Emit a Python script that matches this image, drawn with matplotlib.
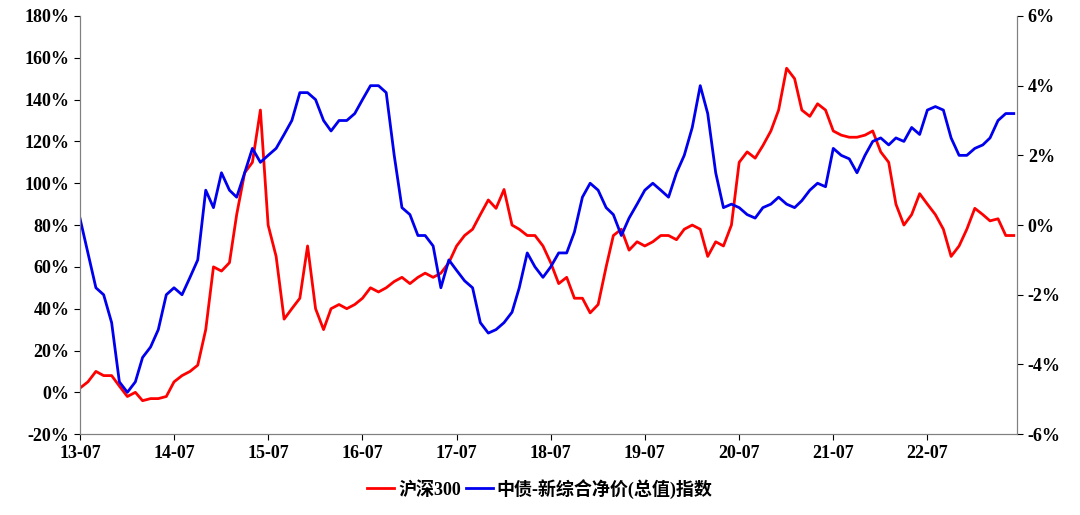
import matplotlib
matplotlib.use("Agg")
import matplotlib.pyplot as plt
import matplotlib.ticker as mt
import pandas as pd

plt.rcParams['font.family'] = ['Liberation Serif', 'Noto Sans CJK SC']

hs300 = [2,5,10,8,8,3,-2,0,-4,-3,-3,-2,
         5,8,10,13,30,60,58,62,85,105,110,135,
         80,65,35,40,45,70,40,30,40,42,40,42,
         45,50,48,50,53,55,52,55,57,55,57,62,
         70,75,78,85,92,88,97,80,78,75,75,70,
         62,52,55,45,45,38,42,60,75,78,68,72,
         70,72,75,75,73,78,80,78,65,72,70,80,
         110,115,112,118,125,135,155,150,135,132,138,135,
         125,123,122,122,123,125,115,110,90,80,85,95,
         90,85,78,65,70,78,88,85,82,83,75,75]
bond = [0.2,-0.8,-1.8,-2.0,-2.8,-4.5,-4.8,-4.5,-3.8,-3.5,-3.0,-2.0,
        -1.8,-2.0,-1.5,-1.0,1.0,0.5,1.5,1.0,0.8,1.5,2.2,1.8,
        2.0,2.2,2.6,3.0,3.8,3.8,3.6,3.0,2.7,3.0,3.0,3.2,
        3.6,4.0,4.0,3.8,2.0,0.5,0.3,-0.3,-0.3,-0.6,-1.8,-1.0,
        -1.3,-1.6,-1.8,-2.8,-3.1,-3.0,-2.8,-2.5,-1.8,-0.8,-1.2,-1.5,
        -1.2,-0.8,-0.8,-0.2,0.8,1.2,1.0,0.5,0.3,-0.3,0.2,0.6,
        1.0,1.2,1.0,0.8,1.5,2.0,2.8,4.0,3.2,1.5,0.5,0.6,
        0.5,0.3,0.2,0.5,0.6,0.8,0.6,0.5,0.7,1.0,1.2,1.1,
        2.2,2.0,1.9,1.5,2.0,2.4,2.5,2.3,2.5,2.4,2.8,2.6,
        3.3,3.4,3.3,2.5,2.0,2.0,2.2,2.3,2.5,3.0,3.2,3.2]
dates = pd.date_range('2013-07-01', periods=len(hs300), freq='MS')
tick_labels = ['13-07','14-07','15-07','16-07','17-07','18-07','19-07','20-07','21-07','22-07']
names = ['沪深300', '中债-新综合净价(总值)指数']

fig = plt.figure(figsize=(10.8, 5.15), dpi=100)
ax = fig.add_axes([0.074, 0.157, 0.868, 0.812])
ax2 = ax.twinx()
l1, = ax.plot(dates, hs300, color='#ff0000', lw=2, label=names[0])
l2, = ax2.plot(dates, bond, color='#0000ee', lw=2, label=names[1])
ax.set_ylim(-20, 180)
ax2.set_ylim(-6, 6)
ax.set_yticks(range(-20, 181, 20))
ax2.set_yticks(range(-6, 7, 2))
ax.yaxis.set_major_formatter(mt.FuncFormatter(lambda v, p: f'{v:.0f}%'))
ax2.yaxis.set_major_formatter(mt.FuncFormatter(lambda v, p: f'{v:.0f}%'))
ax.set_xlim(pd.Timestamp('2013-07-01'), pd.Timestamp('2023-06-15'))
ticks = [pd.Timestamp(f'20{l[:2]}-07-01') for l in tick_labels]
ax.set_xticks(ticks)
ax.set_xticklabels(tick_labels)
for a in (ax, ax2):
    a.spines['top'].set_visible(False)
    for s in a.spines.values():
        s.set_color('#808080')
    a.tick_params(labelsize=13, colors='black', length=4)
    for t in a.get_xticklabels() + a.get_yticklabels():
        t.set_fontweight('bold')
fig.legend(handles=[l1, l2], loc='lower center', ncol=2, frameon=False,
           bbox_to_anchor=(0.5, 0.0), prop={'family': ['Liberation Serif', 'Noto Sans CJK SC'], 'weight': 'bold', 'size': 13},
           handlelength=1.5, columnspacing=0.3, handletextpad=0.2)
fig.savefig('out.png', dpi=100)
